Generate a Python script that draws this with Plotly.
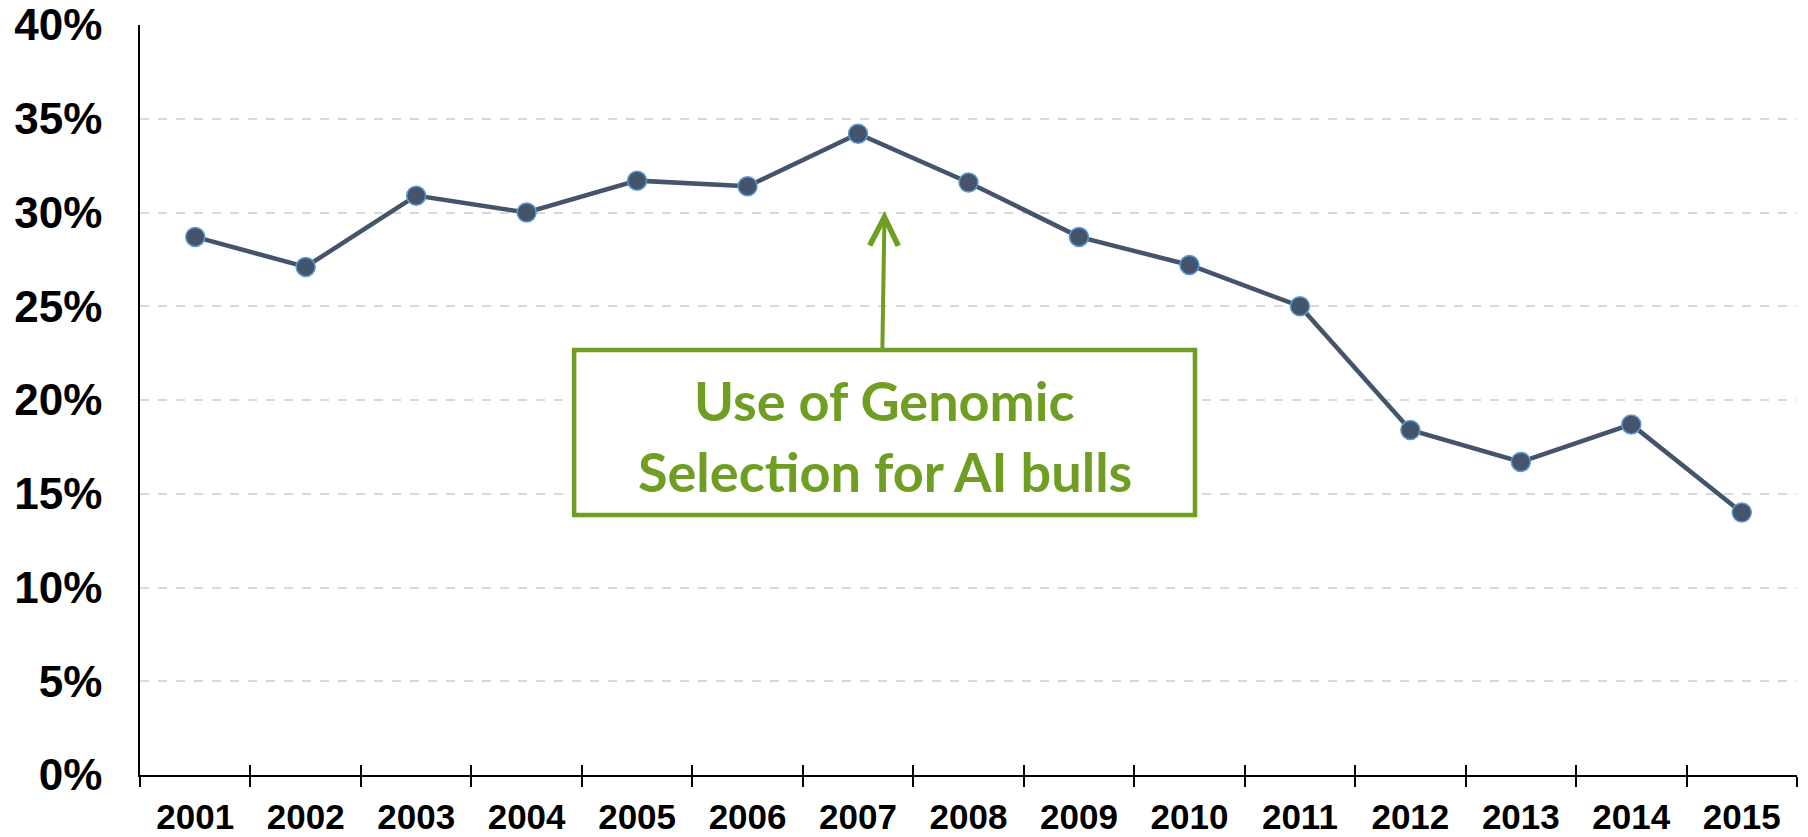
import plotly.graph_objects as go

years = ["2001", "2002", "2003", "2004", "2005", "2006", "2007", "2008",
         "2009", "2010", "2011", "2012", "2013", "2014", "2015"]
values = [28.7, 27.1, 30.9, 30.0, 31.7, 31.4, 34.2, 31.6,
          28.7, 27.2, 25.0, 18.4, 16.7, 18.7, 14.0]
y_ticks = [0, 5, 10, 15, 20, 25, 30, 35, 40]
y_ticktext = [f"{v}%" for v in y_ticks]
note_lines = ["Use of Genomic", "Selection for AI bulls"]

GREEN = "#6F9E23"
NAVY = "#44546A"

fig = go.Figure()
fig.add_trace(go.Scatter(
    x=years, y=values, mode="lines+markers",
    line=dict(color=NAVY, width=4.5),
    marker=dict(size=19, color=NAVY, line=dict(color="#5B9BD5", width=1.5)),
    showlegend=False, hoverinfo="x+y",
))
# invisible trace to anchor the secondary x axis (inside tick marks)
fig.add_trace(go.Scatter(x=[], y=[], xaxis="x2", yaxis="y", showlegend=False))

fig.update_layout(
    template="none",
    width=1800, height=829,
    margin=dict(l=132, r=11, t=17, b=62, autoexpand=False),
    paper_bgcolor="white", plot_bgcolor="white",
    xaxis=dict(
        type="category", range=[-0.5, 14.5], automargin=False,
        tickson="boundaries", ticks="outside", ticklen=10, tickwidth=1.5, tickcolor="black",
        showline=True, linecolor="black", linewidth=1.5,
        showgrid=False, zeroline=False,
        tickfont=dict(family="Arial, Liberation Sans", size=35, color="black", weight="bold"),
        ticklabelstandoff=10, ticklabeloverflow="allow",
    ),
    xaxis2=dict(
        overlaying="x", anchor="y", side="bottom", type="linear", automargin=False,
        range=[-0.5, 14.5], tickmode="array",
        tickvals=[i - 0.5 for i in range(len(years) + 1)],
        ticks="inside", ticklen=10, tickwidth=1.5, tickcolor="black",
        showticklabels=False, showgrid=False, showline=False, zeroline=False,
    ),
    yaxis=dict(
        range=[0, 40], tickmode="array", tickvals=y_ticks, ticktext=y_ticktext,
        automargin=False,
        showgrid=True, gridcolor="#D9D9D9", griddash="dash", gridwidth=1.5,
        showline=True, linecolor="black", linewidth=1.5,
        ticks="", zeroline=False,
        tickfont=dict(family="Arial, Liberation Sans", size=44, color="black", weight="bold"),
        ticklabelstandoff=27, ticklabeloverflow="allow",
    ),
)

# annotation box
fig.add_shape(type="rect", xref="x", yref="y", x0=3.43, x1=9.05, y0=13.87, y1=22.67,
              line=dict(color=GREEN, width=4.5), fillcolor="white", layer="above")

# arrow
fig.add_annotation(x=6.24, y=30.08, ax=6.22, ay=22.67, xref="x", yref="y",
                   axref="x", ayref="y", text="", showarrow=True,
                   arrowhead=5, arrowsize=1.4, arrowwidth=4, arrowcolor=GREEN)

for txt, yv in zip(note_lines, [20.0, 16.2]):
    fig.add_annotation(x=6.24, y=yv, xref="x", yref="y", text=txt, showarrow=False,
                       xanchor="center", yanchor="middle",
                       font=dict(family="Lato", size=54, color=GREEN, weight="bold"))

fig.write_html("out.html")
